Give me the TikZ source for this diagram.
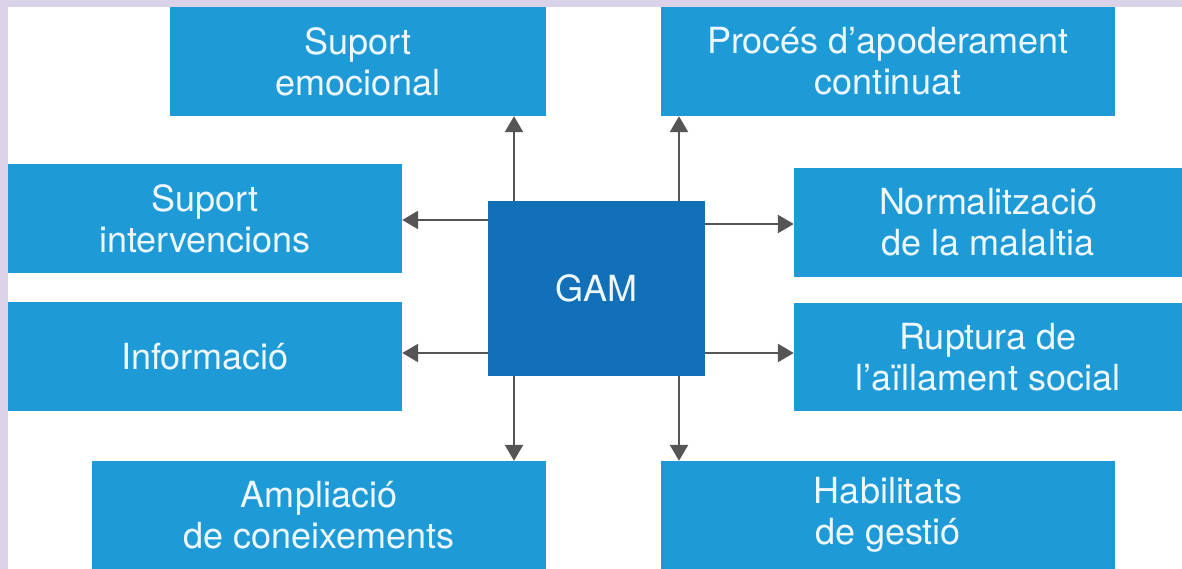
\documentclass[tikz,border=0pt]{standalone}
\usepackage{fontspec}
\setmainfont{TeX Gyre Heros}
\usetikzlibrary{arrows.meta}
\definecolor{lav}{HTML}{DAD2E9}
\definecolor{boxblue}{HTML}{1E9AD6}
\definecolor{gamblue}{HTML}{1270B8}
\definecolor{arrgray}{HTML}{555555}
\definecolor{txt}{HTML}{EEF7FC}
\tikzset{
  card/.style={fill=boxblue, draw=none, inner sep=0pt, align=center, text=txt,
    font=\fontsize{36}{41}\selectfont},
  hub/.style={fill=gamblue, draw=none, inner sep=0pt, align=center, text=txt,
    font=\fontsize{36}{41}\selectfont, minimum width=217pt, minimum height=175pt},
  conn/.style={draw=arrgray, line width=2.5pt, -{Triangle[length=16pt,width=18pt]}}
}
\begin{document}
\begin{tikzpicture}[x=1pt,y=-1pt]
\useasboundingbox (0,0) rectangle (1182,569);
\fill[lav] (0,0) rectangle (1182,569);
\fill[white] (8,7) rectangle (1182,569);

\node[card, minimum width=376pt, minimum height=109pt] (se) at (358,61.5) {Suport\\emocional};
\node[card, minimum width=454pt, minimum height=109pt] (pa) at (888,61.5) {Procés d’apoderament\\continuat};
\node[card, minimum width=394pt, minimum height=109pt] (si) at (205,218.5) {Suport\\intervencions};
\node[card, minimum width=388pt, minimum height=109pt] (nm) at (988,222.5) {Normalització\\de la malaltia};
\node[card, minimum width=394pt, minimum height=109pt] (inf) at (205,356.5) {Informació};
\node[card, minimum width=388pt, minimum height=108pt] (ru) at (988,357) {Ruptura de\\l’aïllament social};
\node[card, minimum width=454pt, minimum height=108pt] (am) at (319,515) {Ampliació\\de coneixements};
\node[card, minimum width=454pt, minimum height=108pt] (hb) at (888,515) {Habilitats\\de gestió};
\node[hub] (gam) at (596.5,288.5) {GAM};

\coordinate (xl) at (514,0);
\coordinate (xr) at (679,0);
\coordinate (yl1) at (0,220);
\coordinate (yr1) at (0,224);
\coordinate (y2) at (0,353);

\draw[conn] (gam.north -| xl) -- (se.south -| xl);
\draw[conn] (gam.north -| xr) -- (pa.south -| xr);
\draw[conn] (gam.south -| xl) -- (am.north -| xl);
\draw[conn] (gam.south -| xr) -- (hb.north -| xr);
\draw[conn] (gam.west |- yl1) -- (si.east |- yl1);
\draw[conn] (gam.west |- y2) -- (inf.east |- y2);
\draw[conn] (gam.east |- yr1) -- (nm.west |- yr1);
\draw[conn] (gam.east |- y2) -- (ru.west |- y2);
\end{tikzpicture}
\end{document}
